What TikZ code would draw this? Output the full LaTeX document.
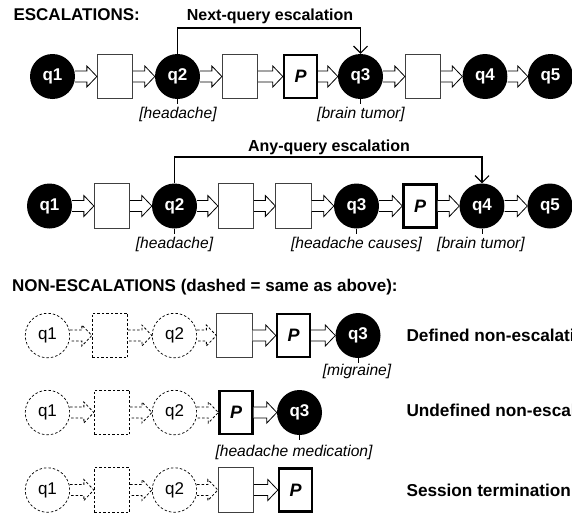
\documentclass[tikz,border=0pt]{standalone}
\usepackage{fontspec}
\setmainfont{Liberation Sans}
\usetikzlibrary{arrows.meta,calc}
\tikzset{
  qn/.style={circle, fill=black, minimum size=45pt, inner sep=0pt, text=white, font=\fontsize{17}{20}\selectfont\bfseries},
  qd/.style={circle, draw, line width=0.7pt, dash pattern=on 2.5pt off 2pt, minimum size=44.5pt, inner sep=0pt, font=\fontsize{17}{20}\selectfont},
  bx/.style={rectangle, draw=black!75, line width=0.8pt, minimum width=35.5pt, minimum height=44.5pt, inner sep=0pt},
  bxd/.style={bx, draw=black, dash pattern=on 2.5pt off 2pt},
  pb/.style={rectangle, draw, line width=2.4pt, minimum width=33pt, minimum height=43pt, inner sep=0pt, font=\fontsize{18}{20}\selectfont\bfseries\itshape},
  tag/.style={anchor=base, font=\fontsize{15.6}{18}\selectfont\itshape},
  hdr/.style={anchor=base west, font=\fontsize{17}{20}\selectfont\bfseries},
  side/.style={anchor=base west, font=\fontsize{17.2}{20}\selectfont\bfseries},
  esclbl/.style={anchor=base, font=\fontsize{16}{20}\selectfont\bfseries},
  esc/.style={line width=1.1pt, -{Straight Barb[length=7pt,width=14pt]}},
  tick/.style={line width=0.7pt},
  barr/.style={line width=0.8pt, fill=white},
  barrd/.style={barr, dash pattern=on 2.5pt off 2pt},
}
\newcommand{\blockarr}[3][barr]{%
  \draw[#1] let \p1=(#2.east), \p2=(#3.west) in
    (\x1,\y1+5.5pt) -- (\x2-10pt,\y1+5.5pt) -- (\x2-10pt,\y1+10.5pt) -- (\x2,\y1)
    -- (\x2-10pt,\y1-10.5pt) -- (\x2-10pt,\y1-5.5pt) -- (\x1,\y1-5.5pt);}
\begin{document}
\begin{tikzpicture}[x=1pt,y=-1pt]
\useasboundingbox (0,0) rectangle (572,514);
\clip (0,0) rectangle (572,514);

% ---------- headers ----------
\node[hdr] (h1) at (10,20.5) {ESCALATIONS:};
\node[hdr] (h2) at (8.5,291.5) {NON-ESCALATIONS (dashed = same as above):};

% ---------- row 1 ----------
\node[qn] (a1) at (52.5,76.5) {q1};
\node[bx] (a2) at (115,76.5) {};
\node[qn] (a3) at (177.5,76.5) {q2};
\node[bx] (a4) at (240,76.5) {};
\node[pb] (a5) at (300.5,76.5) {P};
\node[qn] (a6) at (360.5,76.5) {q3};
\node[bx] (a7) at (423,76.5) {};
\node[qn] (a8) at (485,76.5) {q4};
\node[qn] (a9) at (550.5,76.5) {q5};
\blockarr{a1}{a2}\blockarr{a2}{a3}\blockarr{a3}{a4}\blockarr{a4}{a5}
\blockarr{a5}{a6}\blockarr{a6}{a7}\blockarr{a7}{a8}\blockarr{a8}{a9}
\draw[esc] (a3.north) -- (a3.north |- 0,28) -| (a6.north);
\node[esclbl] (e1) at (270,20.5) {Next-query escalation};
\draw[tick] (a3.south) -- ++(0,5);
\draw[tick] (a6.south) -- ++(0,5);
\node[tag] (t1) at (178,118) {[headache]};
\node[tag] (t2) at (361,118) {[brain tumor]};

% ---------- row 2 ----------
\node[qn] (b1) at (49.5,206) {q1};
\node[bx] (b2) at (112,206) {};
\node[qn] (b3) at (174.5,206) {q2};
\node[bx] (b4) at (236,206) {};
\node[bx] (b5) at (293.5,206) {};
\node[qn] (b6) at (356.5,206) {q3};
\node[pb] (b7) at (420,206) {P};
\node[qn] (b8) at (482,206) {q4};
\node[qn] (b9) at (550,206) {q5};
\blockarr{b1}{b2}\blockarr{b2}{b3}\blockarr{b3}{b4}\blockarr{b4}{b5}
\blockarr{b5}{b6}\blockarr{b6}{b7}\blockarr{b7}{b8}\blockarr{b8}{b9}
\draw[esc] (b3.north) -- (b3.north |- 0,157) -| (b8.north);
\node[esclbl] (e2) at (329,151) {Any-query escalation};
\draw[tick] (b3.south) -- ++(0,5);
\draw[tick] (b6.south) -- ++(0,5);
\draw[tick] (b8.south) -- ++(0,5);
\node[tag] (t3) at (174.5,248.5) {[headache]};
\node[tag] (t4) at (356.5,248.5) {[headache causes]};
\node[tag] (t5) at (481,248.5) {[brain tumor]};

% ---------- row 3 ----------
\node[qd] (c1) at (47.5,335.5) {q1};
\node[bxd] (c2) at (110,335.5) {};
\node[qd] (c3) at (174.5,335.5) {q2};
\node[bx] (c4) at (234.5,335.5) {};
\node[pb] (c5) at (293.5,335.5) {P};
\node[qn] (c6) at (358,335.5) {q3};
\blockarr[barrd]{c1}{c2}\blockarr[barrd]{c2}{c3}\blockarr[barrd]{c3}{c4}
\blockarr{c4}{c5}\blockarr{c5}{c6}
\draw[tick] (c6.south) -- ++(0,5);
\node[tag] (t6) at (357,375) {[migraine]};
\node[side] (l1) at (403,341) {Defined non-escalation};

% ---------- row 4 ----------
\node[qd] (d1) at (47.5,412.5) {q1};
\node[bxd] (d2) at (112,412.5) {};
\node[qd] (d3) at (174.5,412.5) {q2};
\node[pb] (d4) at (236,412.5) {P};
\node[qn] (d5) at (299.5,412.5) {q3};
\blockarr[barrd]{d1}{d2}\blockarr[barrd]{d2}{d3}\blockarr[barrd]{d3}{d4}
\blockarr{d4}{d5}
\draw[tick] (d5.south) -- ++(0,5);
\node[tag] (t7) at (294,456) {[headache medication]};
\node[side] (l2) at (403,416) {Undefined non-escalation};

% ---------- row 5 ----------
\node[qd] (f1) at (47.5,490) {q1};
\node[bxd] (f2) at (112,490) {};
\node[qd] (f3) at (174.5,490) {q2};
\node[bx] (f4) at (236,490) {};
\node[pb] (f5) at (295.5,490) {P};
\blockarr[barrd]{f1}{f2}\blockarr[barrd]{f2}{f3}\blockarr[barrd]{f3}{f4}
\blockarr{f4}{f5}
\node[side] (l3) at (403,496) {Session termination};
\end{tikzpicture}
\end{document}
